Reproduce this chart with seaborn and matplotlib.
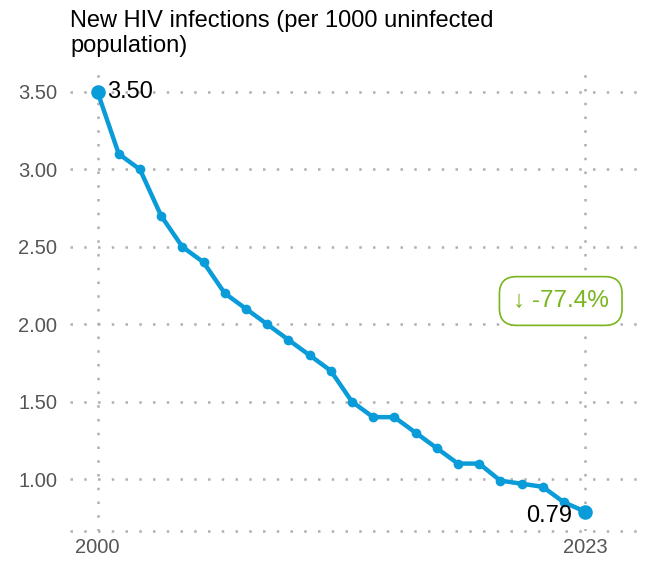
import matplotlib
matplotlib.use("Agg")
import matplotlib.pyplot as plt
import seaborn as sns
import pandas as pd

years = list(range(2000, 2024))
values = [3.50, 3.10, 3.00, 2.70, 2.50, 2.40, 2.20, 2.10, 2.00, 1.90, 1.80, 1.70,
          1.50, 1.40, 1.40, 1.30, 1.20, 1.10, 1.10, 0.99, 0.97, 0.95, 0.85, 0.79]
y_ticks = [1.00, 1.50, 2.00, 2.50, 3.00, 3.50]
x_ticks = [2000, 2023]
title = "New HIV infections (per 1000 uninfected\npopulation)"
change_label = "↓ -77.4%"

sns.set_theme(style="white")
plt.rcParams['font.family'] = ['Liberation Sans', 'DejaVu Sans']

df = pd.DataFrame({"year": years, "value": values})
blue = "#0a9bd9"
green = "#79b51c"
grid_c = "#b0b0b0"
dots = (0, (1, 4.5))

fig = plt.figure(figsize=(6.48, 5.65), dpi=100)
ax = fig.add_axes([0.108, 0.06, 0.88, 0.809])

sns.lineplot(data=df, x="year", y="value", ax=ax, color=blue, lw=3.2,
             marker="o", markersize=7, markeredgewidth=0)
ends = df.iloc[[0, -1]]
ax.scatter(ends["year"], ends["value"], s=110, color=blue, zorder=5, linewidths=0)

ax.set_xlim(1998.7, 2025.6)
ax.set_ylim(0.664, 3.616)
ax.set_yticks(y_ticks)
ax.set_yticklabels([f"{v:.2f}" for v in y_ticks])
ax.set_xticks(x_ticks)
ax.set_xticklabels([str(x) for x in x_ticks])
ax.set_xlabel("")
ax.set_ylabel("")
ax.tick_params(axis="y", colors="#555555", labelsize=14.5, length=0, pad=9)
ax.tick_params(axis="x", colors="#555555", labelsize=14.5, length=0, pad=5)

for s in ["top", "right", "left", "bottom"]:
    ax.spines[s].set_visible(False)

ax.grid(True, axis="both", color=grid_c, lw=1.8, linestyle=dots)
ax.axhline(0.664, color=grid_c, lw=1.8, linestyle=dots, clip_on=False, zorder=0)
ax.set_axisbelow(True)

ax.annotate(f"{values[0]:.2f}", (years[0], values[0]), xytext=(7, 0),
            textcoords="offset points", ha="left", va="center", fontsize=17, color="black")
ax.annotate(f"{values[-1]:.2f}", (years[-1], values[-1]), xytext=(-9, -3),
            textcoords="offset points", ha="right", va="center", fontsize=17, color="black")

ax.text(2021.85, 2.15, change_label, ha="center", va="center", fontsize=17.5, color=green,
        bbox=dict(boxstyle="round,pad=0.55,rounding_size=0.7", fc="white", ec=green, lw=1.2))

fig.text(0.108, 0.982, title, ha="left", va="top", fontsize=17, color="black", linespacing=1.15)

fig.savefig("out.png", dpi=100)
